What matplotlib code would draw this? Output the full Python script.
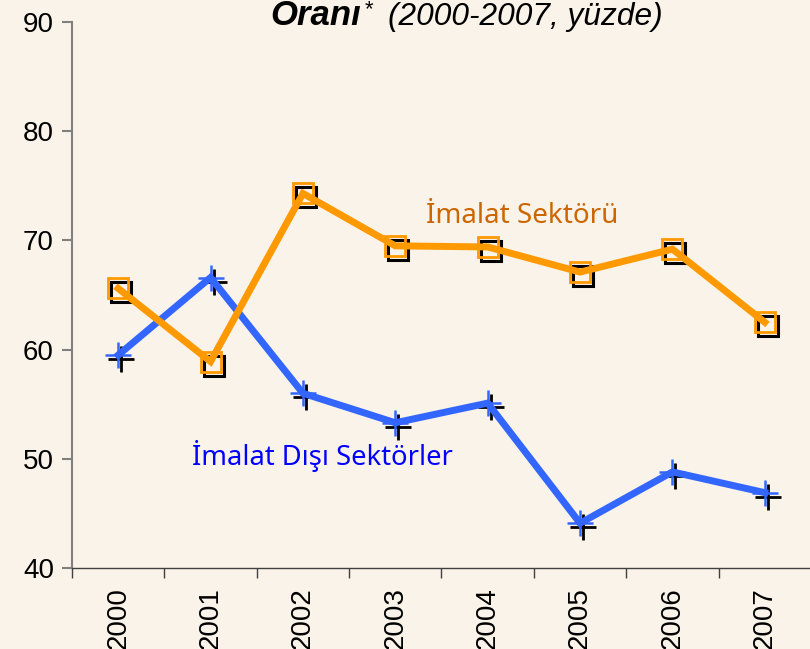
import numpy as np
import matplotlib
matplotlib.use("Agg")
import matplotlib.pyplot as plt
import matplotlib.transforms as mtransforms

years = ["2000", "2001", "2002", "2003", "2004", "2005", "2006", "2007"]
imalat = [65.6, 58.9, 74.3, 69.5, 69.4, 67.1, 69.2, 62.5]
imalat_disi = [59.5, 66.6, 56.0, 53.3, 55.1, 44.1, 48.8, 46.9]
y_ticks = [40, 50, 60, 70, 80, 90]

bg = "#faf3e9"
orange = "#ff9900"
blue = "#3366ff"
axis_grey = "#808080"

plt.rcParams["font.family"] = ["Liberation Sans", "DejaVu Sans"]

fig = plt.figure(figsize=(8.10, 6.49), dpi=100, facecolor=bg)
ax = fig.add_axes([72 / 810, 1 - 568 / 649, 739 / 810, 546 / 649])
ax.set_facecolor(bg)
ax.patch.set_visible(False)

x = np.arange(len(years))

# black "shadow" markers slightly down and right
shadow = mtransforms.offset_copy(ax.transData, fig=fig, x=3, y=-4, units="dots")
ax.plot(x, imalat, ls="none", marker="s", ms=15, mfc="none", mec="black",
        mew=2.2, transform=shadow, zorder=2)
ax.plot(x, imalat_disi, ls="none", marker="+", ms=19, mec="black",
        mew=2.0, transform=shadow, zorder=2)

ax.plot(x, imalat_disi, color=blue, lw=5, solid_joinstyle="miter", zorder=3)
ax.plot(x, imalat, color=orange, lw=5, solid_joinstyle="miter", zorder=4)

ax.plot(x, imalat, ls="none", marker="s", ms=15, mfc="none", mec=orange,
        mew=2.0, zorder=5)
ax.plot(x, imalat_disi, ls="none", marker="+", ms=19, mec=blue,
        mew=1.8, zorder=5)

ax.set_xlim(-0.5, len(years) - 0.5)
ax.set_ylim(40, 90)
ax.set_yticks(y_ticks)
ax.tick_params(axis="y", labelsize=20, length=7, width=1.5, color=axis_grey,
               pad=6)

ax.set_xticks(x)
ax.set_xticklabels(years, rotation=90, fontsize=20)
ax.set_xticks(np.arange(len(years) + 1) - 0.5, minor=True)
ax.tick_params(axis="x", which="major", length=0, pad=14)
ax.tick_params(axis="x", which="minor", length=7, width=1, color="#404040")

for side in ["top", "right"]:
    ax.spines[side].set_visible(False)
ax.spines["left"].set_color(axis_grey)
ax.spines["left"].set_linewidth(1.5)
ax.spines["bottom"].set_color("#404040")
ax.spines["bottom"].set_linewidth(1)

ax.text(3.337, 71.6, "İmalat Sektörü", color="#cc6600", fontsize=20,
        family="Noto Sans", ha="left", va="baseline")
ax.text(0.80, 49.4, "İmalat Dışı Sektörler", color="#0000ff", fontsize=19.7,
        family="Noto Sans", ha="left", va="baseline")

fig.text(270 / 810, 1 - 25 / 649, "Oranı", fontsize=25, fontweight="bold",
         fontstyle="italic", ha="left", va="baseline")
fig.text(364 / 810, 1 - 15 / 649, "*", fontsize=16, fontstyle="italic",
         ha="left", va="baseline")
fig.text(388 / 810, 1 - 25 / 649, "(2000-2007, yüzde)", fontsize=22.8,
         fontstyle="italic", ha="left", va="baseline")

fig.savefig("out.png", dpi=100, facecolor=bg)
